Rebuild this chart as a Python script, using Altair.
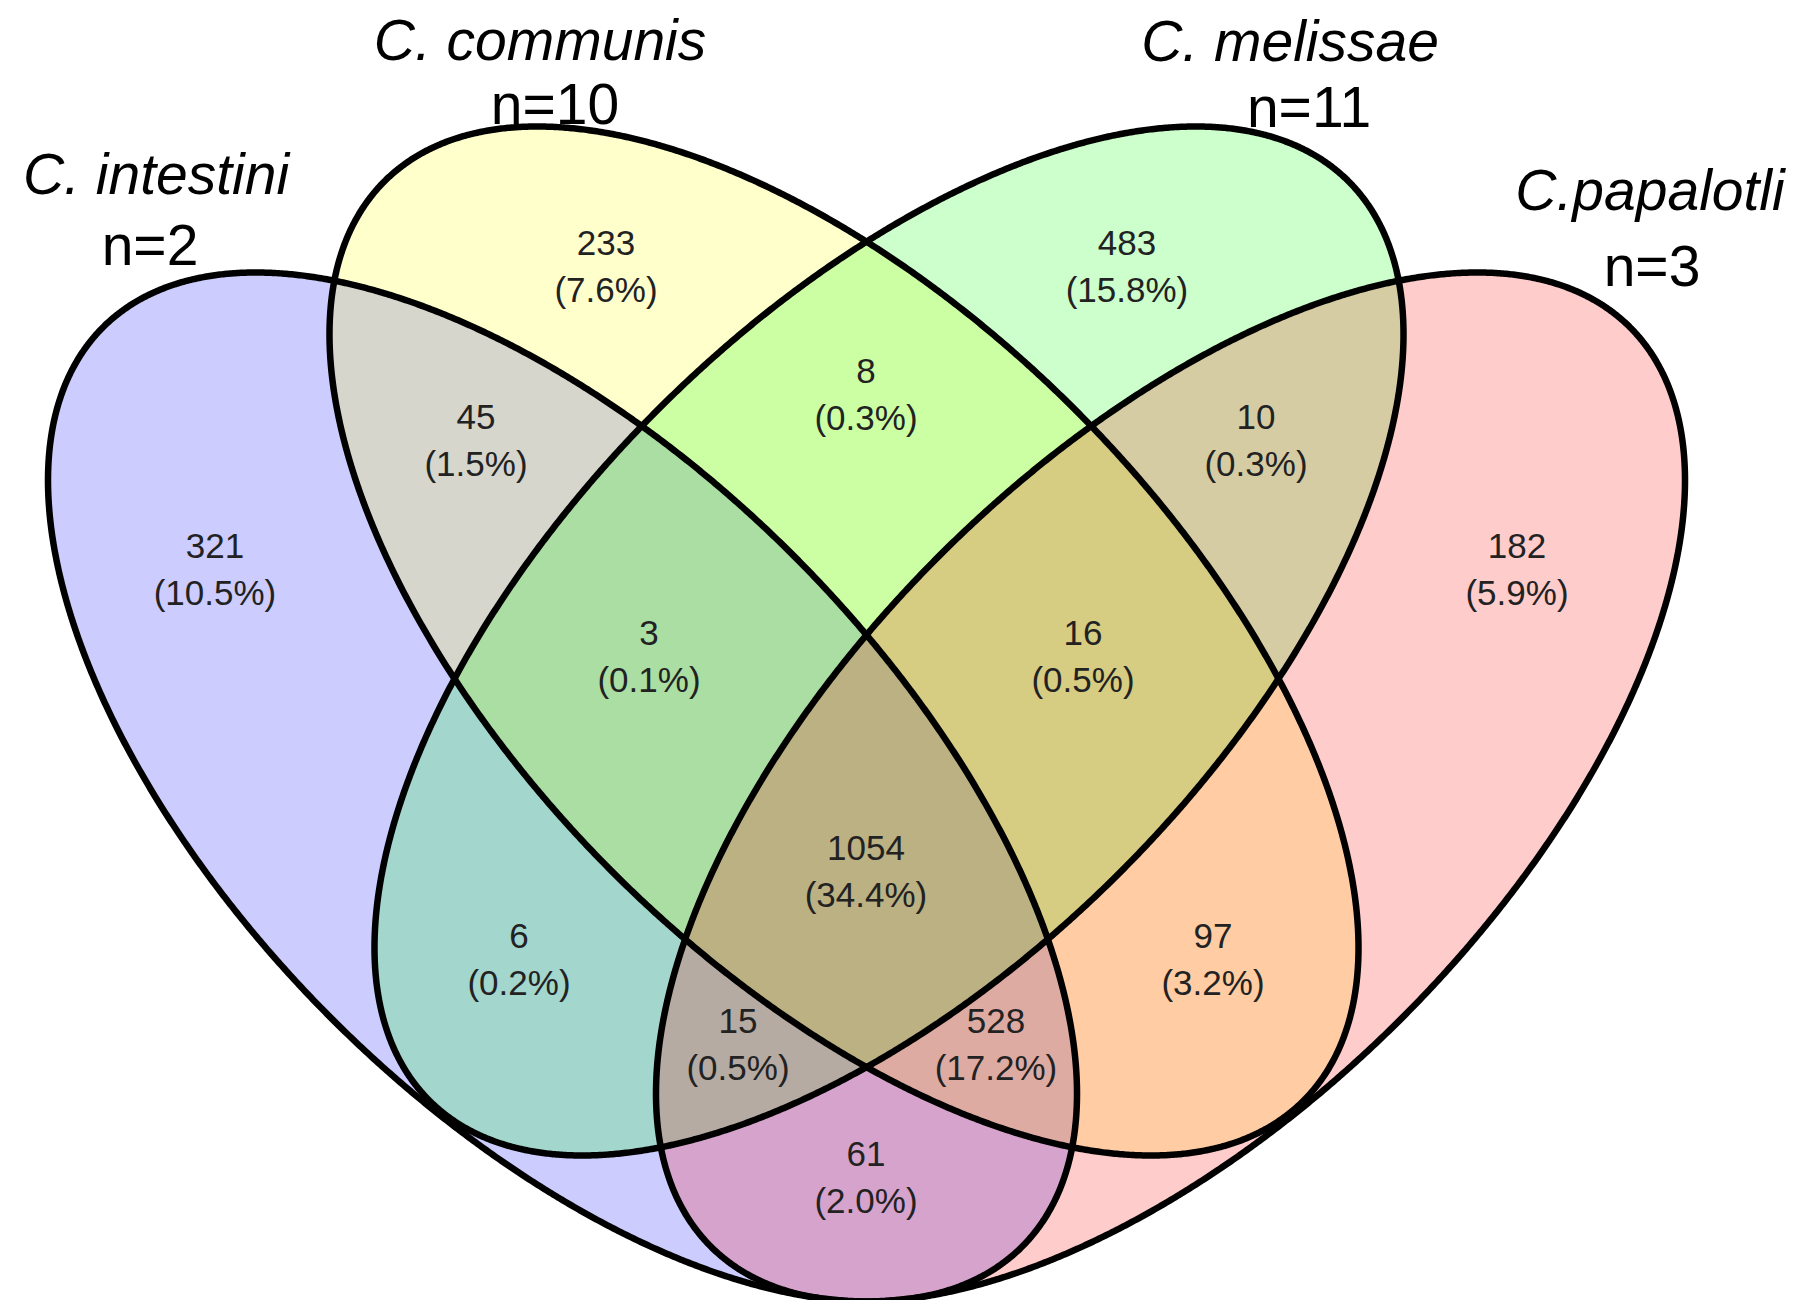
import numpy as np
import pandas as pd
import altair as alt

# ---- sets (titles, sizes, colours) ----
set_names = ["C. intestini", "C. communis", "C. melissae", "C.papalotli"]
set_sizes = ["n=2", "n=10", "n=11", "n=3"]
set_colors = ["#0000ff", "#ffff00", "#00ff00", "#ff0000"]
name_x = [156, 540, 1290, 1650]
name_y = [194, 60, 61, 210]
size_x = [150, 555, 1309, 1652]
size_y = [265, 124, 127, 286]

# ---- ellipse geometry (reference units) ----
ell_cx = [562.5, 844.0, 889.0, 1170.5]
ell_cy = [787.0, 641.0, 641.0, 787.0]
ell_a = [650.0, 650.0, 650.0, 650.0]
ell_b = [327.0, 327.0, 327.0, 327.0]
ell_angle = [45.0, 45.0, -45.0, -45.0]

# ---- region counts and labels ----
region_counts = ["321", "233", "483", "182", "45", "8", "10", "61", "6", "97", "3", "16", "15", "528", "1054"]
region_pcts = ["(10.5%)", "(7.6%)", "(15.8%)", "(5.9%)", "(1.5%)", "(0.3%)", "(0.3%)", "(2.0%)",
               "(0.2%)", "(3.2%)", "(0.1%)", "(0.5%)", "(0.5%)", "(17.2%)", "(34.4%)"]
region_x = [215, 606, 1127, 1517, 476, 866, 1256, 866, 519, 1213, 649, 1083, 738, 996, 866]
region_y = [547, 244, 244, 547, 418, 372, 418, 1155, 937, 937, 634, 634, 1022, 1022, 849]
pct_gap = 47

# ---- build ellipse outlines (vertical chords) ----
rows = []
for i in range(4):
    t = np.deg2rad(ell_angle[i])
    a, b = ell_a[i], ell_b[i]
    c, s = np.cos(t), np.sin(t)
    A = c * c / a**2 + s * s / b**2
    B = 2 * s * c * (1 / a**2 - 1 / b**2)
    C = s * s / a**2 + c * c / b**2
    W = np.sqrt(a * a * c * c + b * b * s * s)
    ss = np.linspace(0, np.pi, 721)
    xp = -W * np.cos(ss)
    disc = np.clip(B * B * xp * xp - 4 * C * (A * xp * xp - 1), 0, None)
    yp1 = (-B * xp - np.sqrt(disc)) / (2 * C)
    yp2 = (-B * xp + np.sqrt(disc)) / (2 * C)
    for xv, y1, y2 in zip(xp, yp1, yp2):
        rows.append({"set": i, "x": ell_cx[i] + xv, "y1": ell_cy[i] + y1, "y2": ell_cy[i] + y2})
ell_df = pd.DataFrame(rows)

lab_df = pd.DataFrame({
    "x": region_x + region_x,
    "y": region_y + [v + pct_gap for v in region_y],
    "text": region_counts + region_pcts,
})
name_df = pd.DataFrame({"x": name_x, "y": name_y, "text": set_names})
size_df = pd.DataFrame({"x": size_x, "y": size_y, "text": set_sizes})

xscale = alt.Scale(domain=[8, 1799], nice=False, zero=False)
yscale = alt.Scale(domain=[8, 1300], reverse=True, nice=False, zero=False)

layers = []
for i in range(4):
    layers.append(
        alt.Chart(ell_df).transform_filter(alt.datum.set == i)
        .mark_area(fill=set_colors[i], fillOpacity=0.2, strokeWidth=0)
        .encode(x=alt.X("x:Q", scale=xscale, axis=None),
                y=alt.Y("y1:Q", scale=yscale, axis=None),
                y2="y2:Q")
    )
layers.append(
    alt.Chart(ell_df)
    .mark_area(fill="white", fillOpacity=0, stroke="black", strokeWidth=6.5, strokeJoin="round")
    .encode(x=alt.X("x:Q", scale=xscale, axis=None),
            y=alt.Y("y1:Q", scale=yscale, axis=None),
            y2="y2:Q",
            detail="set:N")
)
layers.append(
    alt.Chart(lab_df).mark_text(font="Liberation Sans", fontSize=35, color="#222222",
                                align="center", baseline="middle")
    .encode(x=alt.X("x:Q", scale=xscale, axis=None),
            y=alt.Y("y:Q", scale=yscale, axis=None), text="text:N")
)
layers.append(
    alt.Chart(name_df).mark_text(font="Liberation Sans", fontSize=57, fontStyle="italic",
                                 color="black", align="center", baseline="alphabetic")
    .encode(x=alt.X("x:Q", scale=xscale, axis=None),
            y=alt.Y("y:Q", scale=yscale, axis=None), text="text:N")
)
layers.append(
    alt.Chart(size_df).mark_text(font="Liberation Sans", fontSize=57,
                                 color="black", align="center", baseline="alphabetic")
    .encode(x=alt.X("x:Q", scale=xscale, axis=None),
            y=alt.Y("y:Q", scale=yscale, axis=None), text="text:N")
)

chart = alt.layer(*layers).properties(
    width=1791, height=1292,
    autosize=alt.AutoSizeParams(type="none"),
    padding=0,
    background="white",
).configure_view(stroke="transparent")

chart.save("out.html", embed_options={"renderer": "svg", "actions": False})
